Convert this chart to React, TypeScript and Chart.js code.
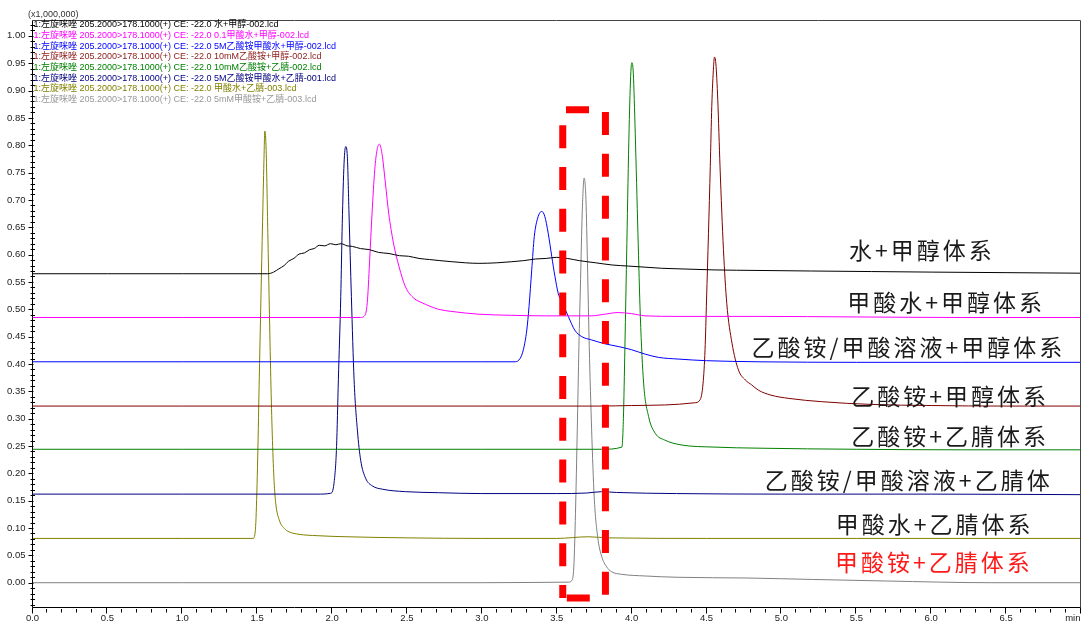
import React, { useEffect, useRef } from 'react';
import { Chart, registerables } from 'chart.js';

Chart.register(...registerables);

// ---------- Data ----------
const legendLines = [
  '1:左旋咪唑 205.2000>178.1000(+) CE: -22.0 水+甲醇-002.lcd',
  '1:左旋咪唑 205.2000>178.1000(+) CE: -22.0 0.1甲酸水+甲醇-002.lcd',
  '1:左旋咪唑 205.2000>178.1000(+) CE: -22.0 5M乙酸铵甲酸水+甲醇-002.lcd',
  '1:左旋咪唑 205.2000>178.1000(+) CE: -22.0 10mM乙酸铵+甲醇-002.lcd',
  '1:左旋咪唑 205.2000>178.1000(+) CE: -22.0 10mM乙酸铵+乙腈-002.lcd',
  '1:左旋咪唑 205.2000>178.1000(+) CE: -22.0 5M乙酸铵甲酸水+乙腈-001.lcd',
  '1:左旋咪唑 205.2000>178.1000(+) CE: -22.0 甲酸水+乙腈-003.lcd',
  '1:左旋咪唑 205.2000>178.1000(+) CE: -22.0 5mM甲酸铵+乙腈-003.lcd',
];

const systemLabels = [
  '水+甲醇体系',
  '甲酸水+甲醇体系',
  '乙酸铵/甲酸溶液+甲醇体系',
  '乙酸铵+甲醇体系',
  '乙酸铵+乙腈体系',
  '乙酸铵/甲酸溶液+乙腈体',
  '甲酸水+乙腈体系',
  '甲酸铵+乙腈体系',
];

const yUnitLabel = '(x1,000,000)';

// 1: 水+甲醇
const tWaterMeOH = [0, 0.5, 1.0, 1.5, 1.57, 1.61, 1.645, 1.68, 1.71, 1.745, 1.78, 1.815, 1.85, 1.88, 1.915, 1.95, 1.99, 2.025, 2.06, 2.10, 2.135, 2.19, 2.25, 2.31, 2.38, 2.45, 2.51, 2.58, 2.65, 2.72, 2.80, 2.89, 2.98, 3.10, 3.20, 3.28, 3.36, 3.43, 3.50, 3.57, 3.65, 3.76, 3.87, 3.98, 4.09, 4.20, 4.31, 4.55, 4.85, 5.2, 5.6, 6.0, 6.5, 7.0];
const vWaterMeOH = [0.565, 0.565, 0.565, 0.565, 0.565, 0.568, 0.574, 0.580, 0.588, 0.593, 0.601, 0.603, 0.609, 0.611, 0.617, 0.616, 0.620, 0.618, 0.620, 0.616, 0.615, 0.611, 0.609, 0.604, 0.602, 0.598, 0.597, 0.593, 0.591, 0.589, 0.587, 0.585, 0.584, 0.585, 0.587, 0.589, 0.592, 0.593, 0.595, 0.593, 0.589, 0.585, 0.581, 0.579, 0.577, 0.575, 0.574, 0.572, 0.571, 0.570, 0.569, 0.568, 0.567, 0.566];

// 2: 甲酸水+甲醇
const tFormicMeOH = [0, 1.0, 2.0, 2.19, 2.213, 2.235, 2.25, 2.267, 2.285, 2.30, 2.316, 2.333, 2.356, 2.378, 2.41, 2.447, 2.49, 2.547, 2.60, 2.65, 2.71, 2.80, 2.98, 3.2, 3.42, 3.6, 3.73, 3.82, 3.91, 4.0, 4.09, 4.31, 4.85, 5.5, 6.2, 7.0];
const vFormicMeOH = [0.485, 0.485, 0.485, 0.485, 0.487, 0.512, 0.585, 0.676, 0.755, 0.791, 0.802, 0.785, 0.731, 0.676, 0.621, 0.578, 0.541, 0.520, 0.512, 0.506, 0.500, 0.496, 0.491, 0.489, 0.488, 0.488, 0.488, 0.491, 0.494, 0.492, 0.488, 0.487, 0.487, 0.486, 0.485, 0.485];

// 3: 乙酸铵/甲酸溶液+甲醇
const tAcFormMeOH = [0, 1.0, 2.0, 3.0, 3.222, 3.255, 3.277, 3.30, 3.315, 3.333, 3.35, 3.373, 3.40, 3.42, 3.443, 3.467, 3.488, 3.51, 3.543, 3.577, 3.62, 3.667, 3.733, 3.82, 3.91, 4.0, 4.09, 4.18, 4.31, 4.5, 4.85, 5.5, 6.2, 7.0];
const vAcFormMeOH = [0.404, 0.404, 0.404, 0.404, 0.404, 0.410, 0.426, 0.462, 0.505, 0.572, 0.633, 0.667, 0.679, 0.670, 0.639, 0.596, 0.560, 0.529, 0.508, 0.487, 0.462, 0.450, 0.444, 0.437, 0.432, 0.426, 0.418, 0.412, 0.409, 0.406, 0.404, 0.403, 0.403, 0.403];

// 4: 乙酸铵+甲醇
const tAcMeOH = [0, 1.0, 2.0, 3.0, 3.78, 4.0, 4.22, 4.42, 4.456, 4.477, 4.49, 4.50, 4.513, 4.525, 4.535, 4.547, 4.553, 4.562, 4.575, 4.59, 4.613, 4.635, 4.67, 4.713, 4.758, 4.80, 4.847, 4.93, 5.05, 5.27, 5.60, 6.0, 6.5, 7.0];
const vAcMeOH = [0.323, 0.323, 0.323, 0.323, 0.323, 0.324, 0.325, 0.329, 0.334, 0.365, 0.426, 0.517, 0.639, 0.761, 0.871, 0.944, 0.961, 0.950, 0.883, 0.761, 0.609, 0.511, 0.438, 0.389, 0.371, 0.362, 0.352, 0.343, 0.337, 0.331, 0.326, 0.324, 0.323, 0.323];

// 5: 乙酸铵+乙腈
const tAcACN = [0, 1.0, 2.0, 3.0, 3.6, 3.80, 3.935, 3.945, 3.955, 3.968, 3.983, 3.995, 4.002, 4.011, 4.024, 4.042, 4.058, 4.08, 4.113, 4.158, 4.22, 4.33, 4.55, 4.85, 5.5, 6.2, 7.0];
const vAcACN = [0.244, 0.244, 0.244, 0.244, 0.244, 0.244, 0.248, 0.300, 0.430, 0.620, 0.830, 0.935, 0.951, 0.932, 0.822, 0.639, 0.487, 0.365, 0.304, 0.273, 0.261, 0.252, 0.248, 0.246, 0.244, 0.243, 0.243];

// 6: 乙酸铵/甲酸溶液+乙腈
const tAcFormACN = [0, 1.0, 1.9, 1.99, 2.013, 2.03, 2.042, 2.058, 2.068, 2.08, 2.091, 2.102, 2.113, 2.129, 2.147, 2.169, 2.191, 2.224, 2.269, 2.336, 2.49, 2.71, 3.0, 3.5, 3.7, 3.80, 3.9, 4.3, 5.0, 6.0, 7.0];
const vAcFormACN = [0.162, 0.162, 0.162, 0.1635, 0.182, 0.249, 0.371, 0.523, 0.657, 0.767, 0.7975, 0.779, 0.676, 0.523, 0.371, 0.279, 0.224, 0.191, 0.177, 0.171, 0.1665, 0.1646, 0.163, 0.163, 0.164, 0.1665, 0.165, 0.163, 0.162, 0.162, 0.161];

// 7: 甲酸水+乙腈
const tFormicACN = [0, 1.0, 1.473, 1.48, 1.491, 1.502, 1.513, 1.525, 1.536, 1.545, 1.551, 1.56, 1.571, 1.582, 1.592, 1.602, 1.613, 1.624, 1.647, 1.68, 1.713, 1.78, 1.9, 2.1, 2.5, 3.0, 3.5, 3.71, 3.85, 4.5, 5.5, 7.0];
const vFormicACN = [0.081, 0.081, 0.081, 0.083, 0.110, 0.210, 0.360, 0.520, 0.660, 0.770, 0.826, 0.790, 0.640, 0.490, 0.360, 0.260, 0.185, 0.145, 0.115, 0.0995, 0.093, 0.0885, 0.086, 0.084, 0.082, 0.081, 0.081, 0.084, 0.082, 0.081, 0.081, 0.081];

// 8: 甲酸铵+乙腈
const tAmFormACN = [0, 1.0, 2.0, 3.0, 3.577, 3.603, 3.615, 3.625, 3.637, 3.648, 3.659, 3.67, 3.683, 3.695, 3.705, 3.717, 3.733, 3.75, 3.773, 3.80, 3.833, 3.867, 3.933, 4.09, 4.31, 4.77, 5.2, 5.7, 6.4, 7.0];
const vAmFormACN = [0, 0, 0, 0, 0.001, 0.005, 0.035, 0.127, 0.279, 0.432, 0.554, 0.676, 0.740, 0.700, 0.584, 0.432, 0.279, 0.157, 0.084, 0.048, 0.029, 0.020, 0.0154, 0.0123, 0.0099, 0.0086, 0.006, 0.0031, 0.0, 0.0];

const xTickValues = [0, 0.5, 1.0, 1.5, 2.0, 2.5, 3.0, 3.5, 4.0, 4.5, 5.0, 5.5, 6.0, 6.5, 7.0];
const xTickLabels = ['0.0', '0.5', '1.0', '1.5', '2.0', '2.5', '3.0', '3.5', '4.0', '4.5', '5.0', '5.5', '6.0', '6.5', 'min'];
const yTickValues = [0, 0.05, 0.1, 0.15, 0.2, 0.25, 0.3, 0.35, 0.4, 0.45, 0.5, 0.55, 0.6, 0.65, 0.7, 0.75, 0.8, 0.85, 0.9, 0.95, 1.0];
const yTickLabels = ['0.00', '0.05', '0.10', '0.15', '0.20', '0.25', '0.30', '0.35', '0.40', '0.45', '0.50', '0.55', '0.60', '0.65', '0.70', '0.75', '0.80', '0.85', '0.90', '0.95', '1.00'];

// ---------- Styles ----------
const seriesColors = ['#000000', '#ff00ff', '#0000ff', '#800000', '#008000', '#000080', '#808000', '#808080'];
const legendColors = ['#000000', '#ff00ff', '#0000ff', '#8b1a1a', '#008000', '#000080', '#808000', '#999999'];

// label anchors in data space (time, intensity)
const labelAnchors = [
  [5.927, 0.6084],
  [6.09, 0.5129],
  [5.837, 0.4301],
  [6.117, 0.3414],
  [6.117, 0.2683],
  [5.84, 0.1869],
  [6.013, 0.1073],
  [6.007, 0.0369],
];
const labelColors = ['#1a1a1a', '#1a1a1a', '#1a1a1a', '#1a1a1a', '#1a1a1a', '#1a1a1a', '#1a1a1a', '#ff1a1a'];
// highlight box in data space
const boxT = [3.54, 3.825];
const boxV = [-0.028, 0.865];

const seriesT = [tWaterMeOH, tFormicMeOH, tAcFormMeOH, tAcMeOH, tAcACN, tAcFormACN, tFormicACN, tAmFormACN];
const seriesV = [vWaterMeOH, vFormicMeOH, vAcFormMeOH, vAcMeOH, vAcACN, vAcFormACN, vFormicACN, vAmFormACN];

const LATIN = '"Liberation Sans", Arial, "Noto Sans CJK SC", sans-serif';

const decorPlugin = {
  id: 'decor',
  afterDraw(chart: any) {
    const { ctx, chartArea: a, scales } = chart;
    const x = scales.x;
    const y = scales.y;
    ctx.save();

    // frame
    ctx.lineWidth = 1;
    ctx.strokeStyle = '#444';
    const L = Math.round(a.left) + 0.5 - 1;
    const R = Math.round(a.right) - 0.5;
    const T = Math.round(a.top) + 0.5;
    const B = Math.round(a.bottom) - 0.5;
    ctx.beginPath();
    ctx.moveTo(L, T);
    ctx.lineTo(R, T);
    ctx.lineTo(R, B);
    ctx.stroke();
    ctx.strokeStyle = '#000';
    ctx.beginPath();
    ctx.moveTo(L, T);
    ctx.lineTo(L, B);
    ctx.lineTo(R, B);
    ctx.stroke();

    // y ticks
    ctx.beginPath();
    for (let i = -4; i <= 102; i++) {
      const v = i / 100;
      const py = Math.round(y.getPixelForValue(v)) + 0.5;
      if (py < a.top || py > a.bottom) continue;
      if (i % 5 === 0) {
        ctx.moveTo(L - 4, py);
        ctx.lineTo(L + 1, py);
      } else {
        ctx.moveTo(L - 2, py);
        ctx.lineTo(L + 2.5, py);
      }
    }
    // x ticks
    for (let i = 0; i <= 70; i++) {
      const t = i / 10;
      const px = Math.round(x.getPixelForValue(t)) - 0.5;
      if (i % 5 === 0) {
        ctx.moveTo(px, B);
        ctx.lineTo(px, B + 6);
      } else {
        ctx.moveTo(px, B + 1.5);
        ctx.lineTo(px, B + 5);
      }
    }
    ctx.stroke();

    // 'min' label
    ctx.font = '9.5px ' + LATIN;
    ctx.fillStyle = '#222';
    ctx.textAlign = 'right';
    ctx.textBaseline = 'middle';
    ctx.fillText(xTickLabels[xTickLabels.length - 1], a.right - 0.5, a.bottom + 5 + 5.7);

    // unit label
    ctx.textAlign = 'left';
    ctx.font = '9px ' + LATIN;
    ctx.fillStyle = '#333';
    ctx.fillText(yUnitLabel, 28, 15);

    // legend
    ctx.font = '9px ' + LATIN;
    legendLines.forEach((s, i) => {
      ctx.fillStyle = legendColors[i];
      ctx.fillText(s, a.left + 1, 25 + i * 10.65);
    });

    // red dashed highlight box
    const bx1 = x.getPixelForValue(boxT[0]);
    const bx2 = x.getPixelForValue(boxT[1]);
    const byT = y.getPixelForValue(boxV[1]);
    const byB = y.getPixelForValue(boxV[0]);
    ctx.strokeStyle = '#ff0000';
    ctx.lineWidth = 7;
    ctx.lineCap = 'butt';
    ctx.lineJoin = 'miter';
    ctx.setLineDash([23, 18.8]);
    ctx.lineDashOffset = 10;
    ctx.beginPath();
    ctx.moveTo(bx1, byB);
    ctx.lineTo(bx1, byT);
    ctx.lineTo(bx2, byT);
    ctx.lineTo(bx2, byB);
    ctx.lineTo(bx1, byB);
    ctx.stroke();
    ctx.setLineDash([]);

    // system labels
    ctx.font = '23px "Noto Sans CJK SC", sans-serif';
    (ctx as any).letterSpacing = '3px';
    ctx.textAlign = 'center';
    ctx.textBaseline = 'middle';
    systemLabels.forEach((s, i) => {
      ctx.fillStyle = labelColors[i];
      ctx.fillText(s, x.getPixelForValue(labelAnchors[i][0]) + 1.5, y.getPixelForValue(labelAnchors[i][1]));
    });
    (ctx as any).letterSpacing = '0px';
    ctx.restore();
  },
};

export default function App() {
  const ref = useRef<HTMLCanvasElement | null>(null);
  useEffect(() => {
    if (!ref.current) return;
    const datasets = seriesT.map((ts, i) => ({
      label: legendLines[i],
      data: ts.map((t, j) => ({ x: t, y: seriesV[i][j] })),
      borderColor: seriesColors[i],
      backgroundColor: seriesColors[i],
      borderWidth: 1,
      pointRadius: 0,
      cubicInterpolationMode: 'monotone' as const,
      fill: false,
    }));
    const chart = new Chart(ref.current, {
      type: 'line',
      data: { datasets },
      plugins: [decorPlugin],
      options: {
        animation: false,
        responsive: false,
        maintainAspectRatio: false,
        devicePixelRatio: 1,
        layout: { padding: { top: 20, right: 3.5, left: 0, bottom: 0 } },
        plugins: { legend: { display: false }, tooltip: { enabled: false }, title: { display: false } },
        scales: {
          x: {
            type: 'linear',
            min: 0,
            max: 7,
            grid: { display: false, drawTicks: false, tickLength: 0 },
            border: { display: false },
            afterBuildTicks: (s: any) => { s.ticks = xTickValues.map((v) => ({ value: v })); },
            afterFit: (s: any) => { s.height = 15.3; },
            ticks: {
              autoSkip: false,
              maxRotation: 0,
              padding: 5,
              color: '#222',
              font: { size: 9.5, family: LATIN },
              callback: (_v: any, i: number) => (i === xTickLabels.length - 1 ? '' : xTickLabels[i]),
            },
          },
          y: {
            type: 'linear',
            min: -0.0457,
            max: 1.029,
            grid: { display: false, drawTicks: false, tickLength: 0 },
            border: { display: false },
            afterBuildTicks: (s: any) => { s.ticks = yTickValues.map((v) => ({ value: v })); },
            afterFit: (s: any) => { s.width = 32.5; },
            ticks: {
              autoSkip: false,
              padding: 7,
              color: '#222',
              font: { size: 9.5, family: LATIN },
              callback: (_v: any, i: number) => yTickLabels[i],
            },
          },
        },
      },
    });
    return () => chart.destroy();
  }, []);
  return (
    <div style={{ position: 'fixed', left: 0, top: 0, width: 1086, height: 623, background: '#fff' }}>
      <canvas ref={ref} width={1086} height={623} style={{ display: 'block', width: 1086, height: 623 }} />
    </div>
  );
}
